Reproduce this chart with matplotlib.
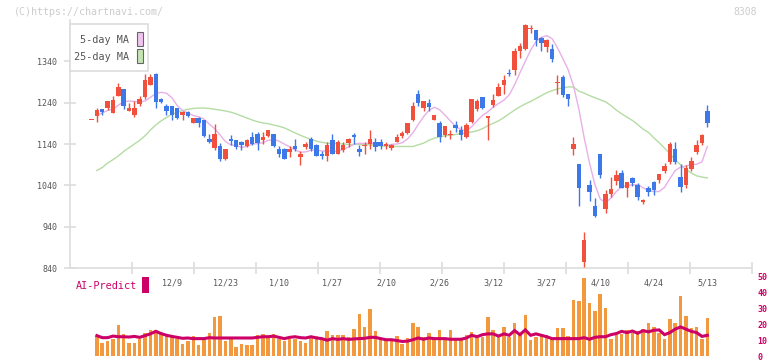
import matplotlib
matplotlib.use("Agg")
import matplotlib.pyplot as plt
import numpy as np
from matplotlib.patches import Rectangle
from matplotlib.transforms import blended_transform_factory

# ---------------- data ----------------
opens = [1199, 1207, 1224, 1227, 1215, 1255, 1272, 1219, 1211, 1236,
         1254, 1282, 1309, 1250, 1231, 1231, 1226, 1209, 1217, 1192,
         1204, 1197, 1151, 1130, 1134, 1103, 1151, 1149, 1146, 1134,
         1156, 1163, 1149, 1159, 1163, 1127, 1129, 1120, 1134, 1108,
         1132, 1151, 1137, 1117, 1110, 1149, 1115, 1125, 1142, 1161,
         1127, 1134, 1139, 1144, 1146, 1134, 1130, 1144, 1159, 1166,
         1197, 1262, 1226, 1238, 1197, 1190, 1161, 1162, 1185, 1175,
         1157, 1193, 1225, 1253, 1203, 1234, 1255, 1282, 1311, 1318,
         1364, 1369, 1418, 1415, 1396, 1374, 1371, 1287, 1303, 1260,
         1128, 1092, 854, 1042, 989, 1117, 982, 1018, 1050, 1071,
         1033, 1057, 1040, 1000, 1033, 1047, 1054, 1074, 1096, 1129,
         1059, 1040, 1079, 1120, 1142, 1220]
highs = [1199, 1226, 1224, 1243, 1255, 1287, 1272, 1238, 1245, 1255,
         1309, 1309, 1311, 1251, 1237, 1233, 1228, 1221, 1219, 1204,
         1206, 1199, 1163, 1188, 1142, 1127, 1161, 1150, 1148, 1151,
         1168, 1168, 1168, 1175, 1164, 1134, 1130, 1134, 1151, 1122,
         1146, 1158, 1139, 1124, 1144, 1163, 1149, 1146, 1154, 1166,
         1137, 1146, 1175, 1154, 1151, 1146, 1141, 1163, 1171, 1192,
         1241, 1270, 1245, 1250, 1209, 1195, 1183, 1173, 1195, 1183,
         1192, 1250, 1250, 1253, 1208, 1262, 1287, 1306, 1321, 1372,
         1384, 1430, 1427, 1417, 1398, 1393, 1381, 1308, 1308, 1262,
         1158, 1092, 926, 1052, 1010, 1117, 1028, 1059, 1076, 1076,
         1047, 1059, 1045, 1008, 1038, 1050, 1067, 1093, 1146, 1144,
         1091, 1088, 1108, 1149, 1163, 1234]
lows = [1199, 1193, 1209, 1222, 1214, 1255, 1224, 1219, 1206, 1232,
        1250, 1282, 1226, 1238, 1209, 1199, 1200, 1197, 1205, 1190,
        1181, 1157, 1142, 1125, 1100, 1101, 1137, 1129, 1125, 1132,
        1137, 1125, 1141, 1158, 1132, 1108, 1103, 1108, 1122, 1088,
        1127, 1122, 1110, 1103, 1100, 1115, 1115, 1120, 1132, 1141,
        1110, 1117, 1129, 1122, 1129, 1129, 1125, 1144, 1154, 1163,
        1195, 1231, 1219, 1219, 1197, 1146, 1158, 1153, 1168, 1149,
        1154, 1190, 1221, 1225, 1149, 1229, 1255, 1262, 1304, 1306,
        1348, 1367, 1408, 1376, 1364, 1362, 1338, 1260, 1253, 1231,
        1113, 989, 842, 1002, 963, 1058, 973, 1012, 1042, 1033,
        1011, 1038, 1004, 994, 1013, 1016, 1045, 1069, 1091, 1091,
        1025, 1033, 1074, 1117, 1137, 1180]
closes = [1199, 1223, 1217, 1243, 1246, 1277, 1231, 1226, 1226, 1250,
          1296, 1301, 1241, 1241, 1221, 1209, 1202, 1217, 1207, 1202,
          1192, 1159, 1144, 1163, 1103, 1127, 1148, 1132, 1137, 1149,
          1141, 1142, 1156, 1173, 1134, 1115, 1103, 1127, 1127, 1117,
          1139, 1127, 1112, 1110, 1137, 1115, 1144, 1137, 1151, 1156,
          1120, 1137, 1151, 1132, 1134, 1139, 1137, 1156, 1166, 1190,
          1233, 1238, 1243, 1229, 1209, 1156, 1183, 1164, 1179, 1162,
          1187, 1248, 1243, 1227, 1208, 1246, 1279, 1294, 1309, 1366,
          1376, 1427, 1420, 1391, 1384, 1391, 1345, 1289, 1258, 1248,
          1139, 1033, 907, 1024, 965, 1066, 1018, 1030, 1064, 1033,
          1047, 1045, 1011, 1004, 1025, 1028, 1067, 1086, 1139, 1096,
          1037, 1081, 1100, 1137, 1161, 1190]

ma5 = [None, 1210, 1215, 1221, 1224, 1234, 1242, 1244, 1243, 1242,
       1244, 1253, 1262, 1265, 1263, 1252, 1233, 1221, 1215, 1209,
       1206, 1200, 1188, 1177, 1162, 1146, 1138, 1136, 1132, 1134,
       1140, 1141, 1143, 1149, 1151, 1147, 1140, 1133, 1126, 1120,
       1121, 1125, 1126, 1123, 1123, 1123, 1122, 1127, 1133, 1139,
       1142, 1141, 1142, 1141, 1137, 1137, 1139, 1140, 1143, 1152,
       1167, 1187, 1206, 1221, 1229, 1223, 1210, 1196, 1183, 1174,
       1172, 1182, 1196, 1209, 1218, 1229, 1238, 1246, 1259, 1283,
       1312, 1340, 1367, 1388, 1398, 1402, 1395, 1373, 1347, 1320,
       1281, 1225, 1155, 1094, 1042, 1007, 998, 1009, 1025, 1036,
       1040, 1041, 1042, 1034, 1027, 1025, 1025, 1035, 1056, 1076,
       1084, 1087, 1090, 1091, 1097, 1134]
ma25 = [None, 1076, 1083, 1094, 1102, 1111, 1122, 1131, 1140, 1149,
        1160, 1174, 1186, 1196, 1204, 1212, 1217, 1221, 1224, 1226,
        1227, 1227, 1226, 1224, 1222, 1220, 1217, 1213, 1208, 1203,
        1198, 1194, 1191, 1189, 1186, 1183, 1179, 1173, 1167, 1161,
        1156, 1151, 1147, 1144, 1142, 1141, 1141, 1140, 1139, 1139,
        1139, 1139, 1138, 1137, 1135, 1135, 1134, 1134, 1134, 1134,
        1134, 1138, 1142, 1149, 1154, 1157, 1160, 1161, 1163, 1165,
        1167, 1169, 1172, 1177, 1184, 1190, 1196, 1204, 1213, 1222,
        1230, 1237, 1243, 1250, 1257, 1264, 1269, 1273, 1276, 1278,
        1278, 1268, 1263, 1257, 1252, 1247, 1242, 1233, 1222, 1213,
        1205, 1197, 1187, 1176, 1168, 1155, 1143, 1130, 1117, 1101,
        1090, 1078, 1070, 1063, 1060, 1058]

# volume-type bars and AI-Predict line (start with the 2nd candle)
volume = [12.9, 8.5, 9.2, 10.5, 19.9, 14.2, 8.5, 8.5, 10.5, 14.8,
          16.7, 16.7, 14.2, 12.9, 12.9, 11.0, 7.9, 9.2, 12.9, 7.2,
          10.5, 14.8, 24.9, 25.5, 9.8, 11.0, 5.9, 7.9, 7.2, 7.2,
          13.5, 14.2, 12.9, 14.2, 10.5, 9.2, 10.5, 11.0, 9.8, 8.5,
          11.6, 12.9, 11.6, 16.1, 13.5, 13.5, 13.5, 12.2, 17.3, 26.7,
          18.6, 29.9, 16.1, 11.0, 9.8, 11.0, 12.9, 7.9, 11.6, 21.1,
          18.6, 12.3, 14.8, 11.6, 16.7, 11.6, 16.7, 11.6, 11.6, 13.5,
          15.4, 11.6, 12.0, 24.8, 16.7, 13.5, 18.6, 12.3, 21.1, 13.5,
          26.1, 10.4, 12.3, 13.5, 13.5, 11.6, 17.9, 17.9, 12.9, 35.5,
          34.9, 49.4, 33.6, 28.2, 39.3, 30.5, 10.5, 13.5, 14.2, 16.7,
          14.8, 16.1, 17.3, 21.1, 18.6, 14.8, 11.0, 23.6, 21.1, 38.0,
          25.5, 17.9, 18.6, 11.0, 24.2]
ai_predict = [12.9, 11.6, 11.6, 12.6, 12.2, 12.2, 12.0, 12.4, 11.8, 12.9,
              14.0, 15.6, 14.2, 13.1, 12.4, 11.8, 11.2, 11.4, 11.0, 11.0,
              11.0, 11.6, 11.4, 11.4, 11.4, 11.4, 11.4, 11.4, 11.4, 11.4,
              11.8, 12.2, 12.2, 12.6, 11.8, 11.0, 11.8, 12.2, 11.6, 11.4,
              12.2, 11.4, 11.0, 10.0, 11.0, 10.5, 11.0, 10.5, 10.8, 11.0,
              11.2, 11.8, 11.8, 11.0, 10.3, 10.3, 9.8, 9.2, 9.4, 10.3,
              11.4, 10.6, 11.4, 11.0, 11.0, 11.0, 10.6, 10.6, 10.6, 11.4,
              13.1, 12.2, 13.5, 14.0, 14.0, 12.6, 14.0, 13.1, 16.1, 13.5,
              16.5, 13.1, 14.0, 13.1, 12.2, 11.0, 11.0, 11.0, 11.0, 11.0,
              11.0, 11.6, 10.6, 11.8, 12.2, 12.2, 13.5, 14.2, 15.6, 14.8,
              15.8, 14.4, 16.0, 15.3, 16.3, 16.5, 13.5, 14.8, 17.0, 18.4,
              17.0, 15.6, 14.8, 12.4, 13.1]

date_labels = ["12/9", "12/23", "1/10", "1/27", "2/10", "2/26",
               "3/12", "3/27", "4/10", "4/24", "5/13"]
date_label_idx = [15, 25, 35, 45, 55, 65, 75, 85, 95, 105, 115]
price_ticks = [840, 940, 1040, 1140, 1240, 1340]
vol_ticks = [0, 10, 20, 30, 40, 50]

# ---------------- style ----------------
RED = "#f0503c"
BLUE = "#3c78e8"
PINK = "#e8b0e8"
GREEN = "#b4dca4"
ORANGE = "#f2993f"
CRIMSON = "#cc0066"
AXIS = "#dddddd"
TXT = "#555555"
MONO = "DejaVu Sans Mono"

W, H = 772, 361
fig = plt.figure(figsize=(W / 100, H / 100), dpi=100)
fig.patch.set_facecolor("white")


def rect(x0, y0, x1, y1):
    return [x0 / W, 1 - y1 / H, (x1 - x0) / W, (y1 - y0) / H]


ax = fig.add_axes(rect(70, 20, 752, 268))
axv = fig.add_axes(rect(70, 277, 752, 356))

XL = (-4.02, 123.34)

# ---------------- candles ----------------
o = np.array(opens, float)
h = np.array(highs, float)
l = np.array(lows, float)
c = np.array(closes, float)
idx = np.arange(len(c))
cols = np.where(c >= o, RED, BLUE)
ax.vlines(idx, l, h, colors=cols, lw=1.0, zorder=3)
body = np.maximum(np.abs(c - o), 2.4)
ax.bar(idx, body, bottom=np.minimum(o, c), width=0.84, color=cols,
       lw=0, zorder=4)

m5 = np.array([np.nan if v is None else v for v in ma5], float)
m25 = np.array([np.nan if v is None else v for v in ma25], float)
ax.plot(idx, m25, color=GREEN, lw=1.0, zorder=2)
ax.plot(idx, m5, color=PINK, lw=1.0, zorder=2)

ax.set_xlim(*XL)
ax.set_ylim(840, 1440)
for s in ["top", "right"]:
    ax.spines[s].set_visible(False)
for s in ["left", "bottom"]:
    ax.spines[s].set_color(AXIS)
    ax.spines[s].set_linewidth(1.2)
ax.set_yticks(price_ticks)
ax.set_yticklabels([str(t) for t in price_ticks], fontsize=6, color=TXT,
                   family=MONO)
ax.set_xticks(np.linspace(XL[0], XL[1], 12)[1:])
ax.set_xticklabels([])
ax.tick_params(axis="both", direction="inout", length=8, width=1.2,
               color=AXIS)
ax.tick_params(axis="y", pad=5)

tr = blended_transform_factory(ax.transData, fig.transFigure)
for lab, i in zip(date_labels, date_label_idx):
    fig.text(i, 1 - 283 / H, lab, transform=tr, ha="center", va="center",
             fontsize=6, color=TXT, family=MONO)

# ---------------- lower panel ----------------
vx = idx[1:]
axv.bar(vx, volume, width=0.66, color=ORANGE, lw=0, zorder=2)
axv.plot(vx, ai_predict, color=CRIMSON, lw=2.2, zorder=3,
         solid_joinstyle="miter")
axv.set_xlim(*XL)
axv.set_ylim(0, 50)
for s in axv.spines.values():
    s.set_visible(False)
axv.set_xticks([])
axv.yaxis.tick_right()
axv.set_yticks(vol_ticks)
axv.set_yticklabels([str(t) for t in vol_ticks], fontsize=6, color=CRIMSON,
                    family=MONO, fontweight="bold")
axv.tick_params(axis="y", length=0, pad=4)

fig.text(76 / W, 1 - 286 / H, "AI-Predict", fontsize=7.3, color=CRIMSON,
         family=MONO, va="center", ha="left")
fig.add_artist(Rectangle((142 / W, 1 - 293 / H), 7 / W, 16 / H,
                         transform=fig.transFigure, facecolor=CRIMSON,
                         edgecolor="none", zorder=6))

# ---------------- legend ----------------
fig.add_artist(Rectangle((70 / W, 1 - 71 / H), 78 / W, 47 / H,
                         transform=fig.transFigure, facecolor="white",
                         edgecolor=AXIS, lw=1.2, zorder=5))
fig.text(129 / W, 1 - 40 / H, "5-day MA", fontsize=7.3, color=TXT,
         family=MONO, ha="right", va="center", zorder=6)
fig.text(129 / W, 1 - 57 / H, "25-day MA", fontsize=7.3, color=TXT,
         family=MONO, ha="right", va="center", zorder=6)
fig.add_artist(Rectangle((137 / W, 1 - 46 / H), 6 / W, 14 / H,
                         transform=fig.transFigure, facecolor="#f0c4f0",
                         edgecolor="#666666", lw=0.8, zorder=6))
fig.add_artist(Rectangle((137 / W, 1 - 63 / H), 6 / W, 14 / H,
                         transform=fig.transFigure, facecolor="#c4e4b4",
                         edgecolor="#666666", lw=0.8, zorder=6))

# ---------------- watermark ----------------
fig.text(14 / W, 1 - 12 / H, "(C)https://chartnavi.com/", fontsize=7.2,
         color="#cccccc", family=MONO, ha="left", va="center")
fig.text(757 / W, 1 - 12 / H, "8308", fontsize=7, color="#cccccc",
         family=MONO, ha="right", va="center")

fig.savefig("out.png", dpi=100, facecolor="white")
